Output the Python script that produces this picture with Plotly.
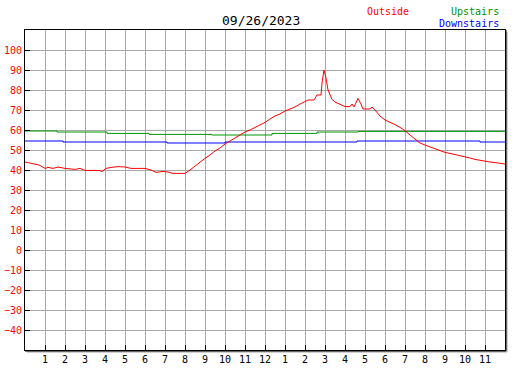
import plotly.graph_objects as go

# ---- data ----
outside_hours = [0.0, 0.25, 0.5, 0.7, 0.85, 1.0, 1.15, 1.4, 1.65, 1.85, 2.0, 2.3, 2.5, 2.75, 3.0,
                 3.5, 3.75, 3.85, 4.05, 4.3, 4.5, 4.65, 5.0, 5.1, 5.3, 5.5, 6.0, 6.3, 6.55, 6.9,
                 7.15, 7.4, 8.0, 8.25, 8.5, 8.75, 9.0, 9.25, 9.5, 9.75, 10.0, 10.25, 10.5, 10.75,
                 11.0, 11.25, 11.5, 11.75, 12.0, 12.25, 12.5, 12.75, 13.0, 13.25, 13.5, 13.75,
                 14.0, 14.15, 14.45, 14.6, 14.8, 14.85, 14.95, 15.05, 15.15, 15.25, 15.35, 15.5,
                 15.75, 16.0, 16.25, 16.35, 16.45, 16.55, 16.65, 16.8, 16.9, 17.25, 17.35, 17.5,
                 17.75, 18.0, 18.25, 18.5, 18.75, 19.0, 19.25, 19.5, 19.75, 20.0, 20.25, 20.5,
                 20.75, 21.0, 21.25, 21.5, 21.75, 22.0, 22.25, 22.5, 22.75, 23.0, 23.25, 23.5,
                 23.75, 24.0]
outside_temps = [44, 43.5, 43.2, 42.5, 41.7, 40.8, 41.3, 40.8, 41.5, 41, 40.8, 40.5, 40.3, 40.8, 39.8,
                 39.8, 39.7, 39.2, 40.8, 41.3, 41.5, 41.7, 41.5, 41.3, 40.8, 40.8, 40.8, 40, 38.8, 39.3,
                 39, 38.3, 38.3, 40, 42, 44, 45.8, 47.5, 49.5, 51, 53, 54.5, 56, 57.5,
                 59, 60, 61.2, 62.5, 63.8, 65.5, 67, 68, 69.5, 70.5, 71.5, 73,
                 74.5, 75, 75, 77.5, 77.5, 83.5, 90, 86, 80, 77.5, 75.3, 74,
                 73, 71.7, 71.7, 73, 71.5, 74, 75.8, 73, 70.5, 70.5, 71.5, 70,
                 67, 65, 64, 62.7, 61.3, 59.7, 57.5, 55.5, 53.5, 52.5, 51.5, 50.8,
                 49.8, 48.8, 48.3, 47.8, 47.2, 46.7, 46, 45.3, 44.8, 44.2, 44, 43.7,
                 43.5, 43]

upstairs_hours = [0, 1.6, 4.1, 6.2, 9.35, 12.35, 14.6, 16.65, 24]
upstairs_temps = [59.5, 59, 58.3, 57.8, 57.5, 58.3, 59, 59.3, 59.3]

downstairs_hours = [0, 1.9, 7.1, 10.0, 16.6, 22.75, 24]
downstairs_temps = [54.5, 54, 53.5, 54, 54.5, 54, 54]

x_tickvals = list(range(1, 24))
x_ticktext = [str(h if h <= 12 else h - 12) for h in x_tickvals]
y_tickvals = list(range(-40, 101, 10))

title_text = "09/26/2023"

FONT = "DejaVu Sans Mono"

fig = go.Figure()
fig.add_trace(go.Scatter(x=upstairs_hours, y=upstairs_temps, mode="lines",
                         line=dict(color="#009600", width=1, shape="hv"), name="Upstairs"))
fig.add_trace(go.Scatter(x=downstairs_hours, y=downstairs_temps, mode="lines",
                         line=dict(color="#0000ff", width=1, shape="hv"), name="Downstairs"))
fig.add_trace(go.Scatter(x=outside_hours, y=outside_temps, mode="lines",
                         line=dict(color="#ff0000", width=1), name="Outside"))

L, R, T, B = 25, 22, 30, 20
W, H = 527, 370
pw, ph = W - L - R, H - T - B


def px_x(p):
    return (p - L) / pw


def px_y(p):
    return (H - B - p) / ph


fig.update_layout(
    width=W, height=H, autosize=False,
    margin=dict(l=L, r=R, t=T, b=B, pad=0),
    paper_bgcolor="white", plot_bgcolor="white",
    showlegend=False,
    font=dict(family=FONT, size=10, color="black"),
    xaxis=dict(range=[0, 24], tickvals=x_tickvals, ticktext=x_ticktext,
               showgrid=True, gridcolor="#a8a8a8", gridwidth=1,
               ticks="inside", ticklen=5, tickcolor="black", tickwidth=1,
               showline=True, linecolor="black", linewidth=1, mirror=True,
               tickfont=dict(family=FONT, size=10, color="black"),
               zeroline=False, fixedrange=True, automargin=False),
    yaxis=dict(range=[-50, 110], tickvals=y_tickvals,
               showgrid=True, gridcolor="#a8a8a8", gridwidth=1,
               ticks="inside", ticklen=5, tickcolor="black", tickwidth=1,
               showline=True, linecolor="black", linewidth=1, mirror=True,
               tickfont=dict(family=FONT, size=10, color="#ff0000"),
               zeroline=False, fixedrange=True, automargin=False),
    annotations=[
        dict(text=title_text, x=px_x(261), y=px_y(20), xref="paper", yref="paper",
             xanchor="center", yanchor="middle", showarrow=False,
             font=dict(family=FONT, size=13, color="black")),
        dict(text="Outside", x=px_x(411), y=px_y(11.5), xref="paper", yref="paper",
             xanchor="right", yanchor="middle", showarrow=False,
             font=dict(family=FONT, size=10, color="#ff0000")),
        dict(text="Upstairs", x=px_x(500.5), y=px_y(11.5), xref="paper", yref="paper",
             xanchor="right", yanchor="middle", showarrow=False,
             font=dict(family=FONT, size=10, color="#009600")),
        dict(text="Downstairs", x=px_x(500.5), y=px_y(23.5), xref="paper", yref="paper",
             xanchor="right", yanchor="middle", showarrow=False,
             font=dict(family=FONT, size=10, color="#0000ff")),
    ],
    shapes=[
        # shadow on right and bottom
        dict(type="line", xref="paper", yref="paper",
             x0=px_x(507), x1=px_x(507), y0=px_y(32), y1=px_y(352),
             line=dict(color="#a0a0a0", width=1)),
        dict(type="line", xref="paper", yref="paper",
             x0=px_x(27), x1=px_x(507), y0=px_y(352), y1=px_y(352),
             line=dict(color="#a0a0a0", width=1)),
        dict(type="line", xref="paper", yref="paper",
             x0=px_x(506), x1=px_x(506), y0=px_y(30), y1=px_y(351),
             line=dict(color="black", width=1)),
        dict(type="line", xref="paper", yref="paper",
             x0=px_x(25), x1=px_x(506), y0=px_y(351), y1=px_y(351),
             line=dict(color="black", width=1)),
    ],
)

fig.write_html("out.html", config={"displayModeBar": False},
               post_script="document.body.style.margin='0';document.body.style.overflow='hidden';")
